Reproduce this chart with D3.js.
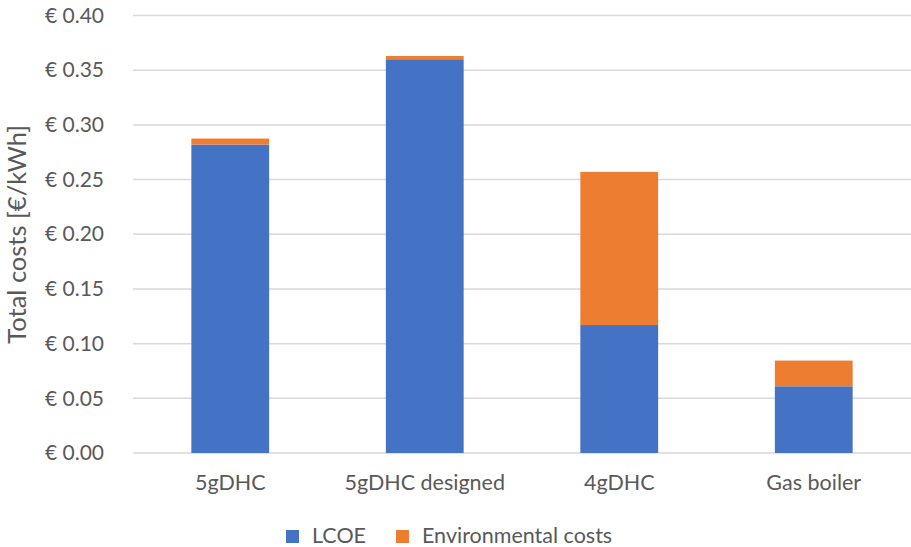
<!DOCTYPE html>
<html>
<head>
<meta charset="utf-8">
<script src="https://cdn.jsdelivr.net/npm/d3@7"></script>
<style>
  html, body { margin: 0; padding: 0; background: #fff; }
  svg { display: block; font-family: Lato, "Open Sans", sans-serif; }
</style>
</head>
<body>
<svg id="chart" width="911" height="547"></svg>
<script>
// Cost per kWh of heat, split into levelised cost and environmental cost
const categories = ["5gDHC", "5gDHC designed", "4gDHC", "Gas boiler"];
const lcoe = [0.282, 0.360, 0.117, 0.061];
const environmental = [0.0055, 0.003, 0.140, 0.0235];
const seriesNames = ["LCOE", "Environmental costs"];
const seriesColors = ["#4472C4", "#ED7D31"];
const yTicks = [0, 0.05, 0.10, 0.15, 0.20, 0.25, 0.30, 0.35, 0.40];

const svg = d3.select("#chart");
const margin = { left: 133, right: 0, top: 15.5, bottom: 94 };
const W = 911, H = 547;
const FONT = "Lato, 'Open Sans', sans-serif";

const x = d3.scaleBand().domain(categories)
  .range([margin.left, W - margin.right])
  .paddingInner(0.6).paddingOuter(0.3);
const y = d3.scaleLinear().domain([0, 0.40]).range([H - margin.bottom, margin.top]);

// Gridlines
svg.append("g").selectAll("line").data(yTicks).join("line")
  .attr("x1", margin.left).attr("x2", W - margin.right)
  .attr("y1", d => y(d)).attr("y2", d => y(d))
  .attr("stroke", "#d9d9d9").attr("stroke-width", 1.5);

// Y axis tick labels
const yAxis = d3.axisLeft(y).tickValues(yTicks)
  .tickFormat(d => "€ " + d3.format(".2f")(d)).tickSize(0).tickPadding(29);
const gy = svg.append("g").attr("transform", `translate(${margin.left},0)`).call(yAxis);
gy.select(".domain").remove();
gy.selectAll("text").attr("fill", "#595959").style("font-size", "21px")
  .style("font-family", FONT);

// Stacked bars
const rows = categories.map((c, i) => ({ cat: c, LCOE: lcoe[i], "Environmental costs": environmental[i] }));
const stack = d3.stack().keys(seriesNames)(rows);
svg.append("g").selectAll("g").data(stack).join("g")
  .attr("fill", (d, i) => seriesColors[i])
  .selectAll("rect").data(d => d).join("rect")
  .attr("x", d => x(d.data.cat))
  .attr("width", x.bandwidth())
  .attr("y", d => y(d[1]))
  .attr("height", d => y(d[0]) - y(d[1]));

// Category labels
const xAxis = d3.axisBottom(x).tickSize(0).tickPadding(22);
const gx = svg.append("g").attr("transform", `translate(0,${y(0)})`).call(xAxis);
gx.select(".domain").remove();
gx.selectAll("text").attr("fill", "#595959").style("font-size", "21.5px")
  .style("font-family", FONT);

// Axis title
svg.append("text")
  .attr("transform", `translate(26,${(y(0) + y(0.4)) / 2}) rotate(-90)`)
  .attr("text-anchor", "middle")
  .attr("fill", "#595959").style("font-size", "25.5px")
  .text("Total costs [€/kWh]");

// Legend
const legendItems = [
  { name: seriesNames[0], color: seriesColors[0], x: 286 },
  { name: seriesNames[1], color: seriesColors[1], x: 396 }
];
const lg = svg.append("g").selectAll("g").data(legendItems).join("g")
  .attr("transform", d => `translate(${d.x},530)`);
lg.append("rect").attr("width", 13).attr("height", 13).attr("fill", d => d.color);
lg.append("text").attr("x", 26).attr("y", 12.5).attr("fill", "#595959")
  .style("font-size", "21.5px").text(d => d.name);
</script>
</body>
</html>
